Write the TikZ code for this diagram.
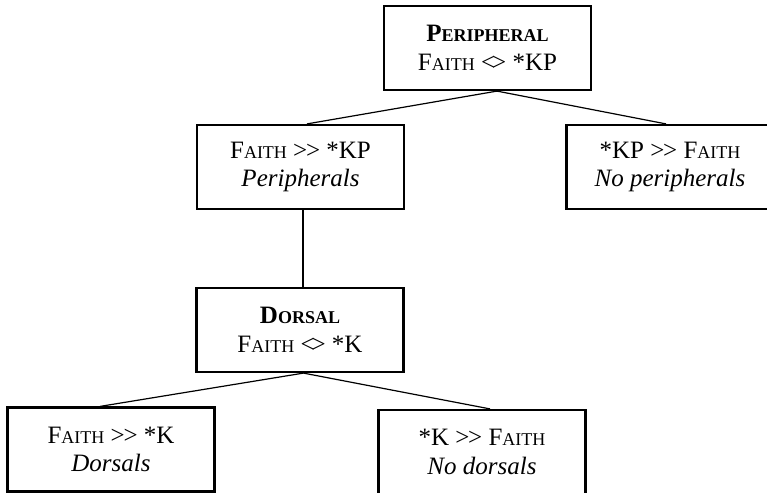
\documentclass[tikz,border=0pt]{standalone}
\usepackage{fontspec}
\setmainfont{Liberation Serif}
\usetikzlibrary{positioning}
\newcommand{\smcap}[1]{{\fontsize{9pt}{14.2pt}\selectfont #1}}

\begin{document}
\begin{tikzpicture}[x=0.5pt, y=-0.5pt,
    choice/.style={draw, line width=1.1pt, rectangle, minimum width=103.5pt, minimum height=42pt, inner sep=0pt, align=center, font=\fontsize{12.5pt}{14.2pt}\selectfont},
    branch/.style={line width=0.6pt}]
                \useasboundingbox (0,0) rectangle (767,493);

                % Top level: peripheral
                \node[choice] (periph) at (487.5,48) {\textbf{P\smcap{ERIPHERAL}}\\F\smcap{AITH} <\kern-0.12em> *KP};

                % Second level
                \node[choice] (faithkp) at (300.5,167) {F\smcap{AITH} >\kern-0.05em> *KP\\\textit{Peripherals}};
                \node[choice] (kpfaith) at (670,167) {*KP >\kern-0.05em> F\smcap{AITH}\\\textit{No peripherals}};

                % Dorsal choice
                \node[choice] (dorsal) at (300,330) {\textbf{D\smcap{ORSAL}}\\F\smcap{AITH} <\kern-0.12em> *K};

                % Bottom level
                \node[choice] (faithk) at (111,449.5) {F\smcap{AITH} >\kern-0.05em> *K\\\textit{Dorsals}};
                \node[choice] (kfaith) at (482,452) {*K >\kern-0.05em> F\smcap{AITH}\\\textit{No dorsals}};

                % Tree branches
                \draw[branch] ([xshift=4.75pt]periph.south) -- ([xshift=3.25pt]faithkp.north);
                \draw[branch] ([xshift=4.75pt]periph.south) -- ([xshift=-2pt]kpfaith.north);
                \draw[branch] ([xshift=1.25pt]faithkp.south) -- ([xshift=1.5pt]dorsal.north);
                \draw[branch] ([xshift=1.75pt]dorsal.south) -- ([xshift=-5.5pt]faithk.north);
                \draw[branch] ([xshift=1.75pt]dorsal.south) -- ([xshift=4pt]kfaith.north);
\end{tikzpicture}
\end{document}
